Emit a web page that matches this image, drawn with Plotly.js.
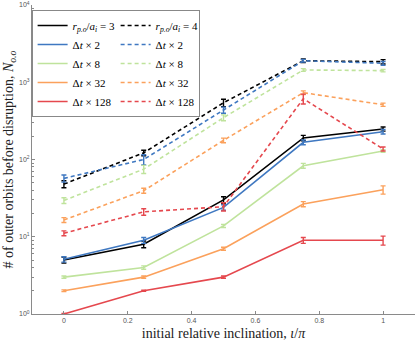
<!DOCTYPE html>
<html>
<head>
<meta charset="utf-8">
<script src="https://cdn.plot.ly/plotly-3.0.1.min.js"></script>
<style>html,body{margin:0;padding:0;background:#fff}</style>
</head>
<body>
<div id="plot" style="width:415px;height:344px"></div>
<script>
// x positions: initial relative inclination / pi
var inclination = [0, 0.25, 0.5, 0.75, 1];

// r_po/a_i = 3 (solid)
var r3 = [5, 8, 30, 190, 248];
var r3Err = [0.45, 0.8, 3, 15, 15];
var r3dt2 = [5.1, 9, 24, 167, 229];
var r3dt2Err = [0.4, 0.8, 2, 12, 15];
var r3dt8 = [3, 4, 13.8, 83, 129];
var r3dt8Err = [0.1, 0.2, 0.6, 6, 5];
var r3dt32 = [2, 3, 7, 26.5, 40.6];
var r3dt32Err = [0.05, 0.1, 0.3, 2, 5];
var r3dt128 = [1, 2, 3, 9, 9];
var r3dt128Err = [0.02, 0.03, 0.1, 0.8, 1.2];

// r_po/a_i = 4 (dashed)
var r4 = [48, 122, 543, 1900, 1845];
var r4Err = [5, 10, 60, 100, 120];
var r4dt2 = [57, 100, 437, 1900, 1760];
var r4dt2Err = [6, 15, 40, 80, 100];
var r4dt8 = [29.5, 75, 348, 1442, 1414];
var r4dt8Err = [2.5, 9, 30, 60, 50];
var r4dt32 = [16.5, 39.5, 177, 733, 512];
var r4dt32Err = [1.2, 3, 12, 40, 25];
var r4dt128 = [11.1, 21, 24.5, 612, 137];
var r4dt128Err = [0.8, 2, 3, 90, 8];

var yTickVals = [1, 10, 100, 1000, 10000];
var yTickText = ['10<sup>0</sup>', '10<sup>1</sup>', '10<sup>2</sup>', '10<sup>3</sup>', '10<sup>4</sup>'];
var xTickVals = [0, 0.2, 0.4, 0.6, 0.8, 1];
var xTickText = ['0', '0.2', '0.4', '0.6', '0.8', '1'];

var black = '#000000', blue = '#3f78c1', green = '#bfe39c', orange = '#fba15c', red = '#e5484e';

function makeTrace(y, err, color, dash, name) {
  return {
    x: inclination,
    y: y,
    mode: 'lines',
    name: name,
    line: {color: color, width: 1.6, dash: dash},
    error_y: {type: 'data', array: err, visible: true, color: color, thickness: 1.4, width: 2.5}
  };
}

var dashed = '4px,3px';
var traces = [
  makeTrace(r3, r3Err, black, 'solid', '<i>r</i><sub><i>p.o</i></sub>/<i>a</i><sub><i>i</i></sub> = 3'),
  makeTrace(r4, r4Err, black, dashed, '<i>r</i><sub><i>p.o</i></sub>/<i>a</i><sub><i>i</i></sub> = 4'),
  makeTrace(r3dt2, r3dt2Err, blue, 'solid', 'Δ<i>t</i> × 2'),
  makeTrace(r4dt2, r4dt2Err, blue, dashed, 'Δ<i>t</i> × 2'),
  makeTrace(r3dt8, r3dt8Err, green, 'solid', 'Δ<i>t</i> × 8'),
  makeTrace(r4dt8, r4dt8Err, green, dashed, 'Δ<i>t</i> × 8'),
  makeTrace(r3dt32, r3dt32Err, orange, 'solid', 'Δ<i>t</i> × 32'),
  makeTrace(r4dt32, r4dt32Err, orange, dashed, 'Δ<i>t</i> × 32'),
  makeTrace(r3dt128, r3dt128Err, red, 'solid', 'Δ<i>t</i> × 128'),
  makeTrace(r4dt128, r4dt128Err, red, dashed, 'Δ<i>t</i> × 128')
];

var serif = 'Liberation Serif, DejaVu Serif, serif';
var axisGrey = '#8a8a8a';

var layout = {
  width: 415,
  height: 344,
  margin: {l: 32, r: 0, t: 5, b: 30, autoexpand: false},
  paper_bgcolor: '#fff',
  plot_bgcolor: '#fff',
  showlegend: true,
  legend: {
    orientation: 'h',
    x: -0.001, xanchor: 'left',
    y: 0.984, yanchor: 'top',
    entrywidth: 38,
    bgcolor: '#fff',
    bordercolor: '#888',
    borderwidth: 1,
    font: {family: serif, size: 11, color: '#000'},
    tracegroupgap: 0
  },
  xaxis: {
    range: [-0.1, 1.1],
    tickvals: xTickVals,
    ticktext: xTickText,
    ticks: 'inside',
    ticklen: 3,
    tickcolor: axisGrey,
    showline: true,
    linecolor: axisGrey,
    linewidth: 1,
    showgrid: false,
    zeroline: false,
    tickfont: {family: 'Liberation Sans, sans-serif', size: 7, color: '#555'},
    title: {text: 'initial relative inclination, <i>ι</i>/<i>π</i>', font: {family: serif, size: 14, color: '#222'}, standoff: 4}
  },
  yaxis: {
    type: 'log',
    range: [0, 4],
    tickvals: yTickVals,
    ticktext: yTickText,
    ticks: 'inside',
    ticklen: 3,
    tickcolor: axisGrey,
    minor: {ticks: 'inside', ticklen: 1.5, tickcolor: axisGrey, dtick: 'D1'},
    showline: true,
    linecolor: axisGrey,
    linewidth: 1,
    showgrid: false,
    zeroline: false,
    tickfont: {family: 'Liberation Sans, sans-serif', size: 7, color: '#555'},
    title: {text: '# of outer orbits before disruption, <i>N</i><sub><i>o.o</i></sub>', font: {family: serif, size: 14, color: '#222'}, standoff: 2}
  }
};

Plotly.newPlot('plot', traces, layout, {displayModeBar: false, staticPlot: true});
</script>
</body>
</html>
